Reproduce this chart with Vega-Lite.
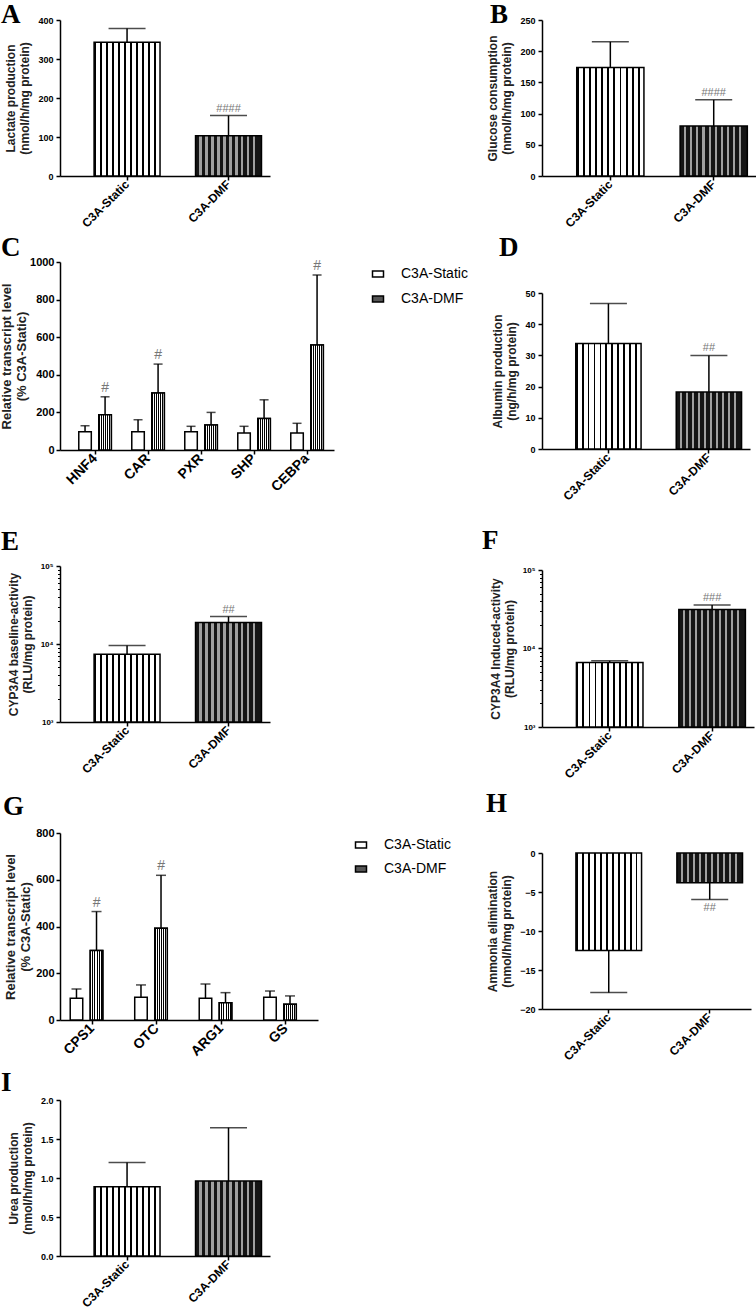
{
"$schema": "https://vega.github.io/schema/vega-lite/v6.json",
"background": "white",
"padding": {"left": 0, "top": 0, "right": 0, "bottom": 0},
"spacing": 9,
"resolve": {"scale": {"fill": "independent"}, "legend": {"fill": "independent"}},
"hconcat": [
 {"spacing": 4, "resolve": {"scale": {"fill": "independent"}, "legend": {"fill": "independent"}}, "vconcat": [
  {"width": 210, "height": 156,
   "title": {"text": "A", "dx": -59, "offset": -13},
   "resolve": {"axis": {"y": "independent"}},
   "data": {"values": [{"g":"C3A-Static","v":343,"e":378,"sig":""},{"g":"C3A-DMF","v":103,"e":155,"sig":"####"}]},
   "encoding": {"x": {"field":"g","type":"nominal","scale":{"domain":["C3A-Static","C3A-DMF"],"paddingInner":0.35,"paddingOuter":0.21,"align":0.8},"axis":{"title":null,"labelAngle":-45,"labelAlign":"right","labelBaseline":"middle","labelFontSize":12,"labelPadding":2}}},
   "layer": [
    {"transform":[{"filter":"datum.g == 'C3A-Static'"}],"mark":{"type":"bar","fill":{"gradient":"linear","stops":[{"offset":0,"color":"#000"},{"offset":0.028,"color":"#000"},{"offset":0.028,"color":"#fff"},{"offset":0.0909,"color":"#fff"},{"offset":0.0909,"color":"#000"},{"offset":0.119,"color":"#000"},{"offset":0.119,"color":"#fff"},{"offset":0.1818,"color":"#fff"},{"offset":0.1818,"color":"#000"},{"offset":0.21,"color":"#000"},{"offset":0.21,"color":"#fff"},{"offset":0.2727,"color":"#fff"},{"offset":0.2727,"color":"#000"},{"offset":0.301,"color":"#000"},{"offset":0.301,"color":"#fff"},{"offset":0.3636,"color":"#fff"},{"offset":0.3636,"color":"#000"},{"offset":0.392,"color":"#000"},{"offset":0.392,"color":"#fff"},{"offset":0.4545,"color":"#fff"},{"offset":0.4545,"color":"#000"},{"offset":0.483,"color":"#000"},{"offset":0.483,"color":"#fff"},{"offset":0.5455,"color":"#fff"},{"offset":0.5455,"color":"#000"},{"offset":0.574,"color":"#000"},{"offset":0.574,"color":"#fff"},{"offset":0.6364,"color":"#fff"},{"offset":0.6364,"color":"#000"},{"offset":0.665,"color":"#000"},{"offset":0.665,"color":"#fff"},{"offset":0.7273,"color":"#fff"},{"offset":0.7273,"color":"#000"},{"offset":0.756,"color":"#000"},{"offset":0.756,"color":"#fff"},{"offset":0.8182,"color":"#fff"},{"offset":0.8182,"color":"#000"},{"offset":0.847,"color":"#000"},{"offset":0.847,"color":"#fff"},{"offset":0.9091,"color":"#fff"},{"offset":0.9091,"color":"#000"},{"offset":0.937,"color":"#000"},{"offset":0.937,"color":"#fff"},{"offset":1,"color":"#fff"}]}},"encoding":{"y":{"field":"v","type":"quantitative","scale":{"domain":[0,400],"nice":false},"axis":{"values":[0,100,200,300,400],"title":["Lactate production","(nmol/h/mg protein)"]}}}},
    {"transform":[{"filter":"datum.g == 'C3A-DMF'"}],"mark":{"type":"bar","fill":{"gradient":"linear","stops":[{"offset":0,"color":"#151515"},{"offset":0.06,"color":"#151515"},{"offset":0.06,"color":"#a0a0a0"},{"offset":0.0909,"color":"#a0a0a0"},{"offset":0.0909,"color":"#151515"},{"offset":0.1509,"color":"#151515"},{"offset":0.1509,"color":"#a0a0a0"},{"offset":0.1818,"color":"#a0a0a0"},{"offset":0.1818,"color":"#151515"},{"offset":0.2418,"color":"#151515"},{"offset":0.2418,"color":"#a0a0a0"},{"offset":0.2727,"color":"#a0a0a0"},{"offset":0.2727,"color":"#151515"},{"offset":0.3327,"color":"#151515"},{"offset":0.3327,"color":"#a0a0a0"},{"offset":0.3636,"color":"#a0a0a0"},{"offset":0.3636,"color":"#151515"},{"offset":0.4236,"color":"#151515"},{"offset":0.4236,"color":"#a0a0a0"},{"offset":0.4545,"color":"#a0a0a0"},{"offset":0.4545,"color":"#151515"},{"offset":0.5145,"color":"#151515"},{"offset":0.5145,"color":"#a0a0a0"},{"offset":0.5455,"color":"#a0a0a0"},{"offset":0.5455,"color":"#151515"},{"offset":0.6055,"color":"#151515"},{"offset":0.6055,"color":"#a0a0a0"},{"offset":0.6364,"color":"#a0a0a0"},{"offset":0.6364,"color":"#151515"},{"offset":0.6964,"color":"#151515"},{"offset":0.6964,"color":"#a0a0a0"},{"offset":0.7273,"color":"#a0a0a0"},{"offset":0.7273,"color":"#151515"},{"offset":0.7873,"color":"#151515"},{"offset":0.7873,"color":"#a0a0a0"},{"offset":0.8182,"color":"#a0a0a0"},{"offset":0.8182,"color":"#151515"},{"offset":0.8782,"color":"#151515"},{"offset":0.8782,"color":"#a0a0a0"},{"offset":0.9091,"color":"#a0a0a0"},{"offset":0.9091,"color":"#151515"},{"offset":1,"color":"#151515"}]}},"encoding":{"y":{"field":"v","type":"quantitative","axis":null}}},
    {"mark":{"type":"rule","strokeWidth":1.5,"color":"black"},"encoding":{"y":{"field":"v","type":"quantitative","axis":null},"y2":{"field":"e"}}},
    {"mark":{"type":"tick","orient":"horizontal","size":37,"thickness":1.5,"color":"black"},"encoding":{"y":{"field":"e","type":"quantitative","axis":null}}},
    {"mark":{"type":"text","dy":-7,"fontSize":11,"color":"#777"},"encoding":{"y":{"field":"e","type":"quantitative","axis":null},"text":{"field":"sig"}}}
   ]},
  {"width": 274, "height": 188,
   "title": {"text": "C", "dx": -59, "offset": -6},
   "resolve": {"axis": {"y": "independent"}},
   "data": {"values": [
    {"gene":"HNF4","g":"C3A-Static","v":97,"e":129,"sig":""},
    {"gene":"HNF4","g":"C3A-DMF","v":188,"e":283,"sig":"#"},
    {"gene":"CAR","g":"C3A-Static","v":97,"e":161,"sig":""},
    {"gene":"CAR","g":"C3A-DMF","v":303,"e":457,"sig":"#"},
    {"gene":"PXR","g":"C3A-Static","v":97,"e":126,"sig":""},
    {"gene":"PXR","g":"C3A-DMF","v":133,"e":200,"sig":""},
    {"gene":"SHP","g":"C3A-Static","v":90,"e":126,"sig":""},
    {"gene":"SHP","g":"C3A-DMF","v":168,"e":267,"sig":""},
    {"gene":"CEBPa","g":"C3A-Static","v":90,"e":142,"sig":""},
    {"gene":"CEBPa","g":"C3A-DMF","v":558,"e":931,"sig":"#"}]},
   "encoding": {
    "x": {"field":"gene","type":"nominal","scale":{"domain":["HNF4","CAR","PXR","SHP","CEBPa"],"paddingInner":0,"paddingOuter":0.085,"align":0.95},"axis":{"title":" ","titleFontSize":10,"titlePadding":20,"labelAngle":-45,"labelAlign":"right","labelBaseline":"middle","labelFontSize":14,"labelPadding":2}},
    "xOffset": {"field":"g","type":"nominal","scale":{"domain":["C3A-Static","C3A-DMF"],"paddingInner":0.375,"paddingOuter":0.51}}},
   "layer": [
    {"mark":{"type":"bar"},"encoding":{
      "y":{"field":"v","type":"quantitative","scale":{"domain":[0,1000],"nice":false},"axis":{"values":[0,200,400,600,800,1000],"format":"d","title":["Relative transcript level","(% C3A-Static)"],"titleFontSize":13,"titleLineHeight":15,"titlePadding":1,"labelPadding":2,"labelFontSize":11}},
      "fill":{"field":"g","type":"nominal","scale":{"domain":["C3A-Static","C3A-DMF"],"range":["#ffffff","#555555"]},"legend":{"title":null,"orient":"right","offset":32,"padding":5,"symbolType":"M-1,-0.55H1V0.55H-1Z","symbolSize":121,"symbolStrokeColor":"black","symbolStrokeWidth":1.8,"labelFontSize":14,"labelFont":"Liberation Sans","labelColor":"black","rowPadding":11,"labelOffset":16}}}},
    {"transform":[{"filter":"datum.g == 'C3A-DMF'"}],"mark":{"type":"bar","fill":{"gradient":"linear","stops":[{"offset":0,"color":"#000"},{"offset":0.083,"color":"#000"},{"offset":0.083,"color":"#fff"},{"offset":0.1667,"color":"#fff"},{"offset":0.1667,"color":"#000"},{"offset":0.25,"color":"#000"},{"offset":0.25,"color":"#fff"},{"offset":0.3333,"color":"#fff"},{"offset":0.3333,"color":"#000"},{"offset":0.4167,"color":"#000"},{"offset":0.4167,"color":"#fff"},{"offset":0.5,"color":"#fff"},{"offset":0.5,"color":"#000"},{"offset":0.5833,"color":"#000"},{"offset":0.5833,"color":"#fff"},{"offset":0.6667,"color":"#fff"},{"offset":0.6667,"color":"#000"},{"offset":0.75,"color":"#000"},{"offset":0.75,"color":"#fff"},{"offset":0.8333,"color":"#fff"},{"offset":0.8333,"color":"#000"},{"offset":0.9167,"color":"#000"},{"offset":0.9167,"color":"#fff"},{"offset":1,"color":"#fff"}]}},"encoding":{"y":{"field":"v","type":"quantitative","axis":null}}},
    {"mark":{"type":"rule","strokeWidth":1.5,"color":"black"},"encoding":{"y":{"field":"v","type":"quantitative","axis":null},"y2":{"field":"e"}}},
    {"mark":{"type":"tick","orient":"horizontal","size":9,"thickness":1.5,"color":"black"},"encoding":{"y":{"field":"e","type":"quantitative","axis":null}}},
    {"mark":{"type":"text","dy":-9,"fontSize":14,"color":"#777"},"encoding":{"y":{"field":"e","type":"quantitative","axis":null},"text":{"field":"sig"}}}
   ]},
  {"width": 210, "height": 156,
   "title": {"text": "E", "dx": -59, "offset": 6},
   "resolve": {"axis": {"y": "independent"}},
   "data": {"values": [{"g":"C3A-Static","v":7400,"e":9550,"sig":""},{"g":"C3A-DMF","v":18800,"e":22500,"sig":"##"}]},
   "encoding": {"x": {"field":"g","type":"nominal","scale":{"domain":["C3A-Static","C3A-DMF"],"paddingInner":0.35,"paddingOuter":0.21,"align":0.8},"axis":{"title":" ","titleFontSize":13,"titlePadding":0,"labelAngle":-45,"labelAlign":"right","labelBaseline":"middle","labelFontSize":12,"labelPadding":2}}},
   "layer": [
    {"transform":[{"filter":"datum.g == 'C3A-Static'"}],"mark":{"type":"bar","fill":{"gradient":"linear","stops":[{"offset":0,"color":"#000"},{"offset":0.028,"color":"#000"},{"offset":0.028,"color":"#fff"},{"offset":0.0909,"color":"#fff"},{"offset":0.0909,"color":"#000"},{"offset":0.119,"color":"#000"},{"offset":0.119,"color":"#fff"},{"offset":0.1818,"color":"#fff"},{"offset":0.1818,"color":"#000"},{"offset":0.21,"color":"#000"},{"offset":0.21,"color":"#fff"},{"offset":0.2727,"color":"#fff"},{"offset":0.2727,"color":"#000"},{"offset":0.301,"color":"#000"},{"offset":0.301,"color":"#fff"},{"offset":0.3636,"color":"#fff"},{"offset":0.3636,"color":"#000"},{"offset":0.392,"color":"#000"},{"offset":0.392,"color":"#fff"},{"offset":0.4545,"color":"#fff"},{"offset":0.4545,"color":"#000"},{"offset":0.483,"color":"#000"},{"offset":0.483,"color":"#fff"},{"offset":0.5455,"color":"#fff"},{"offset":0.5455,"color":"#000"},{"offset":0.574,"color":"#000"},{"offset":0.574,"color":"#fff"},{"offset":0.6364,"color":"#fff"},{"offset":0.6364,"color":"#000"},{"offset":0.665,"color":"#000"},{"offset":0.665,"color":"#fff"},{"offset":0.7273,"color":"#fff"},{"offset":0.7273,"color":"#000"},{"offset":0.756,"color":"#000"},{"offset":0.756,"color":"#fff"},{"offset":0.8182,"color":"#fff"},{"offset":0.8182,"color":"#000"},{"offset":0.847,"color":"#000"},{"offset":0.847,"color":"#fff"},{"offset":0.9091,"color":"#fff"},{"offset":0.9091,"color":"#000"},{"offset":0.937,"color":"#000"},{"offset":0.937,"color":"#fff"},{"offset":1,"color":"#fff"}]}},"encoding":{"y":{"field":"v","type":"quantitative","scale":{"type":"log","domain":[1000,100000],"nice":false},"axis":{"values":[1000,10000,100000],"labelExpr":"datum.value == 1000 ? '10³' : datum.value == 10000 ? '10⁴' : '10⁵'","labelFontSize":8,"title":["CYP3A4 baseline-activity","(RLU/mg protein)"]}},"y2":{"datum":1000}}},
    {"transform":[{"filter":"datum.g == 'C3A-DMF'"}],"mark":{"type":"bar","fill":{"gradient":"linear","stops":[{"offset":0,"color":"#151515"},{"offset":0.06,"color":"#151515"},{"offset":0.06,"color":"#a0a0a0"},{"offset":0.0909,"color":"#a0a0a0"},{"offset":0.0909,"color":"#151515"},{"offset":0.1509,"color":"#151515"},{"offset":0.1509,"color":"#a0a0a0"},{"offset":0.1818,"color":"#a0a0a0"},{"offset":0.1818,"color":"#151515"},{"offset":0.2418,"color":"#151515"},{"offset":0.2418,"color":"#a0a0a0"},{"offset":0.2727,"color":"#a0a0a0"},{"offset":0.2727,"color":"#151515"},{"offset":0.3327,"color":"#151515"},{"offset":0.3327,"color":"#a0a0a0"},{"offset":0.3636,"color":"#a0a0a0"},{"offset":0.3636,"color":"#151515"},{"offset":0.4236,"color":"#151515"},{"offset":0.4236,"color":"#a0a0a0"},{"offset":0.4545,"color":"#a0a0a0"},{"offset":0.4545,"color":"#151515"},{"offset":0.5145,"color":"#151515"},{"offset":0.5145,"color":"#a0a0a0"},{"offset":0.5455,"color":"#a0a0a0"},{"offset":0.5455,"color":"#151515"},{"offset":0.6055,"color":"#151515"},{"offset":0.6055,"color":"#a0a0a0"},{"offset":0.6364,"color":"#a0a0a0"},{"offset":0.6364,"color":"#151515"},{"offset":0.6964,"color":"#151515"},{"offset":0.6964,"color":"#a0a0a0"},{"offset":0.7273,"color":"#a0a0a0"},{"offset":0.7273,"color":"#151515"},{"offset":0.7873,"color":"#151515"},{"offset":0.7873,"color":"#a0a0a0"},{"offset":0.8182,"color":"#a0a0a0"},{"offset":0.8182,"color":"#151515"},{"offset":0.8782,"color":"#151515"},{"offset":0.8782,"color":"#a0a0a0"},{"offset":0.9091,"color":"#a0a0a0"},{"offset":0.9091,"color":"#151515"},{"offset":1,"color":"#151515"}]}},"encoding":{"y":{"field":"v","type":"quantitative","axis":null},"y2":{"datum":1000}}},
    {"mark":{"type":"rule","strokeWidth":1.5,"color":"black"},"encoding":{"y":{"field":"v","type":"quantitative","axis":null},"y2":{"field":"e"}}},
    {"mark":{"type":"tick","orient":"horizontal","size":37,"thickness":1.5,"color":"black"},"encoding":{"y":{"field":"e","type":"quantitative","axis":null}}},
    {"mark":{"type":"text","dy":-7,"fontSize":11,"color":"#777"},"encoding":{"y":{"field":"e","type":"quantitative","axis":null},"text":{"field":"sig"}}},
    {"mark":{"type":"point","opacity":0},"encoding":{"y":{"datum":1000,"type":"quantitative","axis":{"orient":"left","values":[2000,3000,4000,5000,6000,7000,8000,9000,20000,30000,40000,50000,60000,70000,80000,90000],"labels":false,"domain":false,"tickSize":2.5,"tickWidth":1,"title":null}}}}
   ]},
  {"width": 258, "height": 187,
   "title": {"text": "G", "dx": -57, "offset": 6},
   "resolve": {"axis": {"y": "independent"}},
   "data": {"values": [
    {"gene":"CPS1","g":"C3A-Static","v":93,"e":133,"sig":""},
    {"gene":"CPS1","g":"C3A-DMF","v":297,"e":464,"sig":"#"},
    {"gene":"OTC","g":"C3A-Static","v":97,"e":150,"sig":""},
    {"gene":"OTC","g":"C3A-DMF","v":393,"e":619,"sig":"#"},
    {"gene":"ARG1","g":"C3A-Static","v":93,"e":154,"sig":""},
    {"gene":"ARG1","g":"C3A-DMF","v":74,"e":117,"sig":""},
    {"gene":"GS","g":"C3A-Static","v":97,"e":124,"sig":""},
    {"gene":"GS","g":"C3A-DMF","v":67,"e":103,"sig":""}]},
   "encoding": {
    "x": {"field":"gene","type":"nominal","scale":{"domain":["CPS1","OTC","ARG1","GS"],"paddingInner":0,"paddingOuter":0},"axis":{"title":" ","titleFontSize":6,"titlePadding":0,"labelAngle":-45,"labelAlign":"right","labelBaseline":"middle","labelFontSize":14,"labelPadding":2}},
    "xOffset": {"field":"g","type":"nominal","scale":{"domain":["C3A-Static","C3A-DMF"],"paddingInner":0.43,"paddingOuter":0.485}}},
   "layer": [
    {"mark":{"type":"bar"},"encoding":{
      "y":{"field":"v","type":"quantitative","scale":{"domain":[0,800],"nice":false},"axis":{"values":[0,200,400,600,800],"title":["Relative transcript level","(% C3A-Static)"],"titleFontSize":13,"titleLineHeight":15,"titlePadding":3,"labelPadding":2,"labelFontSize":11}},
      "fill":{"field":"g","type":"nominal","scale":{"domain":["C3A-Static","C3A-DMF"],"range":["#ffffff","#555555"]},"legend":{"title":null,"orient":"right","offset":31,"padding":5,"symbolType":"M-1,-0.55H1V0.55H-1Z","symbolSize":121,"symbolStrokeColor":"black","symbolStrokeWidth":1.8,"labelFontSize":14,"labelFont":"Liberation Sans","labelColor":"black","rowPadding":10,"labelOffset":16}}}},
    {"transform":[{"filter":"datum.g == 'C3A-DMF'"}],"mark":{"type":"bar","fill":{"gradient":"linear","stops":[{"offset":0,"color":"#000"},{"offset":0.083,"color":"#000"},{"offset":0.083,"color":"#fff"},{"offset":0.1667,"color":"#fff"},{"offset":0.1667,"color":"#000"},{"offset":0.25,"color":"#000"},{"offset":0.25,"color":"#fff"},{"offset":0.3333,"color":"#fff"},{"offset":0.3333,"color":"#000"},{"offset":0.4167,"color":"#000"},{"offset":0.4167,"color":"#fff"},{"offset":0.5,"color":"#fff"},{"offset":0.5,"color":"#000"},{"offset":0.5833,"color":"#000"},{"offset":0.5833,"color":"#fff"},{"offset":0.6667,"color":"#fff"},{"offset":0.6667,"color":"#000"},{"offset":0.75,"color":"#000"},{"offset":0.75,"color":"#fff"},{"offset":0.8333,"color":"#fff"},{"offset":0.8333,"color":"#000"},{"offset":0.9167,"color":"#000"},{"offset":0.9167,"color":"#fff"},{"offset":1,"color":"#fff"}]}},"encoding":{"y":{"field":"v","type":"quantitative","axis":null}}},
    {"mark":{"type":"rule","strokeWidth":1.5,"color":"black"},"encoding":{"y":{"field":"v","type":"quantitative","axis":null},"y2":{"field":"e"}}},
    {"mark":{"type":"tick","orient":"horizontal","size":10,"thickness":1.5,"color":"black"},"encoding":{"y":{"field":"e","type":"quantitative","axis":null}}},
    {"mark":{"type":"text","dy":-9,"fontSize":14,"color":"#777"},"encoding":{"y":{"field":"e","type":"quantitative","axis":null},"text":{"field":"sig"}}}
   ]},
  {"width": 210, "height": 156,
   "title": {"text": "I", "dx": -59, "offset": -1},
   "resolve": {"axis": {"y": "independent"}},
   "data": {"values": [{"g":"C3A-Static","v":0.887,"e":1.2},{"g":"C3A-DMF","v":0.96,"e":1.645}]},
   "encoding": {"x": {"field":"g","type":"nominal","scale":{"domain":["C3A-Static","C3A-DMF"],"paddingInner":0.35,"paddingOuter":0.21,"align":0.8},"axis":{"title":null,"labelAngle":-45,"labelAlign":"right","labelBaseline":"middle","labelFontSize":12,"labelPadding":2}}},
   "layer": [
    {"transform":[{"filter":"datum.g == 'C3A-Static'"}],"mark":{"type":"bar","fill":{"gradient":"linear","stops":[{"offset":0,"color":"#000"},{"offset":0.028,"color":"#000"},{"offset":0.028,"color":"#fff"},{"offset":0.0909,"color":"#fff"},{"offset":0.0909,"color":"#000"},{"offset":0.119,"color":"#000"},{"offset":0.119,"color":"#fff"},{"offset":0.1818,"color":"#fff"},{"offset":0.1818,"color":"#000"},{"offset":0.21,"color":"#000"},{"offset":0.21,"color":"#fff"},{"offset":0.2727,"color":"#fff"},{"offset":0.2727,"color":"#000"},{"offset":0.301,"color":"#000"},{"offset":0.301,"color":"#fff"},{"offset":0.3636,"color":"#fff"},{"offset":0.3636,"color":"#000"},{"offset":0.392,"color":"#000"},{"offset":0.392,"color":"#fff"},{"offset":0.4545,"color":"#fff"},{"offset":0.4545,"color":"#000"},{"offset":0.483,"color":"#000"},{"offset":0.483,"color":"#fff"},{"offset":0.5455,"color":"#fff"},{"offset":0.5455,"color":"#000"},{"offset":0.574,"color":"#000"},{"offset":0.574,"color":"#fff"},{"offset":0.6364,"color":"#fff"},{"offset":0.6364,"color":"#000"},{"offset":0.665,"color":"#000"},{"offset":0.665,"color":"#fff"},{"offset":0.7273,"color":"#fff"},{"offset":0.7273,"color":"#000"},{"offset":0.756,"color":"#000"},{"offset":0.756,"color":"#fff"},{"offset":0.8182,"color":"#fff"},{"offset":0.8182,"color":"#000"},{"offset":0.847,"color":"#000"},{"offset":0.847,"color":"#fff"},{"offset":0.9091,"color":"#fff"},{"offset":0.9091,"color":"#000"},{"offset":0.937,"color":"#000"},{"offset":0.937,"color":"#fff"},{"offset":1,"color":"#fff"}]}},"encoding":{"y":{"field":"v","type":"quantitative","scale":{"domain":[0,2],"nice":false},"axis":{"values":[0,0.5,1,1.5,2],"format":".1f","title":["Urea production","(nmol/h/mg protein)"]}}}},
    {"transform":[{"filter":"datum.g == 'C3A-DMF'"}],"mark":{"type":"bar","fill":{"gradient":"linear","stops":[{"offset":0,"color":"#151515"},{"offset":0.06,"color":"#151515"},{"offset":0.06,"color":"#a0a0a0"},{"offset":0.0909,"color":"#a0a0a0"},{"offset":0.0909,"color":"#151515"},{"offset":0.1509,"color":"#151515"},{"offset":0.1509,"color":"#a0a0a0"},{"offset":0.1818,"color":"#a0a0a0"},{"offset":0.1818,"color":"#151515"},{"offset":0.2418,"color":"#151515"},{"offset":0.2418,"color":"#a0a0a0"},{"offset":0.2727,"color":"#a0a0a0"},{"offset":0.2727,"color":"#151515"},{"offset":0.3327,"color":"#151515"},{"offset":0.3327,"color":"#a0a0a0"},{"offset":0.3636,"color":"#a0a0a0"},{"offset":0.3636,"color":"#151515"},{"offset":0.4236,"color":"#151515"},{"offset":0.4236,"color":"#a0a0a0"},{"offset":0.4545,"color":"#a0a0a0"},{"offset":0.4545,"color":"#151515"},{"offset":0.5145,"color":"#151515"},{"offset":0.5145,"color":"#a0a0a0"},{"offset":0.5455,"color":"#a0a0a0"},{"offset":0.5455,"color":"#151515"},{"offset":0.6055,"color":"#151515"},{"offset":0.6055,"color":"#a0a0a0"},{"offset":0.6364,"color":"#a0a0a0"},{"offset":0.6364,"color":"#151515"},{"offset":0.6964,"color":"#151515"},{"offset":0.6964,"color":"#a0a0a0"},{"offset":0.7273,"color":"#a0a0a0"},{"offset":0.7273,"color":"#151515"},{"offset":0.7873,"color":"#151515"},{"offset":0.7873,"color":"#a0a0a0"},{"offset":0.8182,"color":"#a0a0a0"},{"offset":0.8182,"color":"#151515"},{"offset":0.8782,"color":"#151515"},{"offset":0.8782,"color":"#a0a0a0"},{"offset":0.9091,"color":"#a0a0a0"},{"offset":0.9091,"color":"#151515"},{"offset":1,"color":"#151515"}]}},"encoding":{"y":{"field":"v","type":"quantitative","axis":null}}},
    {"mark":{"type":"rule","strokeWidth":1.5,"color":"black"},"encoding":{"y":{"field":"v","type":"quantitative","axis":null},"y2":{"field":"e"}}},
    {"mark":{"type":"tick","orient":"horizontal","size":37,"thickness":1.5,"color":"black"},"encoding":{"y":{"field":"e","type":"quantitative","axis":null}}}
   ]}
 ]},
 {"spacing": 4, "vconcat": [
  {"width": 214, "height": 156,
   "title": {"text": "B", "dx": -52, "offset": -13},
   "resolve": {"axis": {"y": "independent"}},
   "data": {"values": [{"g":"C3A-Static","v":174,"e":215,"sig":""},{"g":"C3A-DMF","v":80,"e":122,"sig":"####"}]},
   "encoding": {"x": {"field":"g","type":"nominal","scale":{"domain":["C3A-Static","C3A-DMF"],"paddingInner":0.35,"paddingOuter":0.21,"align":0.8},"axis":{"title":null,"labelAngle":-45,"labelAlign":"right","labelBaseline":"middle","labelFontSize":12,"labelPadding":2}}},
   "layer": [
    {"transform":[{"filter":"datum.g == 'C3A-Static'"}],"mark":{"type":"bar","fill":{"gradient":"linear","stops":[{"offset":0,"color":"#000"},{"offset":0.028,"color":"#000"},{"offset":0.028,"color":"#fff"},{"offset":0.0909,"color":"#fff"},{"offset":0.0909,"color":"#000"},{"offset":0.119,"color":"#000"},{"offset":0.119,"color":"#fff"},{"offset":0.1818,"color":"#fff"},{"offset":0.1818,"color":"#000"},{"offset":0.21,"color":"#000"},{"offset":0.21,"color":"#fff"},{"offset":0.2727,"color":"#fff"},{"offset":0.2727,"color":"#000"},{"offset":0.301,"color":"#000"},{"offset":0.301,"color":"#fff"},{"offset":0.3636,"color":"#fff"},{"offset":0.3636,"color":"#000"},{"offset":0.392,"color":"#000"},{"offset":0.392,"color":"#fff"},{"offset":0.4545,"color":"#fff"},{"offset":0.4545,"color":"#000"},{"offset":0.483,"color":"#000"},{"offset":0.483,"color":"#fff"},{"offset":0.5455,"color":"#fff"},{"offset":0.5455,"color":"#000"},{"offset":0.574,"color":"#000"},{"offset":0.574,"color":"#fff"},{"offset":0.6364,"color":"#fff"},{"offset":0.6364,"color":"#000"},{"offset":0.665,"color":"#000"},{"offset":0.665,"color":"#fff"},{"offset":0.7273,"color":"#fff"},{"offset":0.7273,"color":"#000"},{"offset":0.756,"color":"#000"},{"offset":0.756,"color":"#fff"},{"offset":0.8182,"color":"#fff"},{"offset":0.8182,"color":"#000"},{"offset":0.847,"color":"#000"},{"offset":0.847,"color":"#fff"},{"offset":0.9091,"color":"#fff"},{"offset":0.9091,"color":"#000"},{"offset":0.937,"color":"#000"},{"offset":0.937,"color":"#fff"},{"offset":1,"color":"#fff"}]}},"encoding":{"y":{"field":"v","type":"quantitative","scale":{"domain":[0,250],"nice":false},"axis":{"values":[0,50,100,150,200,250],"title":["Glucose consumption","(nmol/h/mg protein)"]}}}},
    {"transform":[{"filter":"datum.g == 'C3A-DMF'"}],"mark":{"type":"bar","fill":{"gradient":"linear","stops":[{"offset":0,"color":"#151515"},{"offset":0.06,"color":"#151515"},{"offset":0.06,"color":"#a0a0a0"},{"offset":0.0909,"color":"#a0a0a0"},{"offset":0.0909,"color":"#151515"},{"offset":0.1509,"color":"#151515"},{"offset":0.1509,"color":"#a0a0a0"},{"offset":0.1818,"color":"#a0a0a0"},{"offset":0.1818,"color":"#151515"},{"offset":0.2418,"color":"#151515"},{"offset":0.2418,"color":"#a0a0a0"},{"offset":0.2727,"color":"#a0a0a0"},{"offset":0.2727,"color":"#151515"},{"offset":0.3327,"color":"#151515"},{"offset":0.3327,"color":"#a0a0a0"},{"offset":0.3636,"color":"#a0a0a0"},{"offset":0.3636,"color":"#151515"},{"offset":0.4236,"color":"#151515"},{"offset":0.4236,"color":"#a0a0a0"},{"offset":0.4545,"color":"#a0a0a0"},{"offset":0.4545,"color":"#151515"},{"offset":0.5145,"color":"#151515"},{"offset":0.5145,"color":"#a0a0a0"},{"offset":0.5455,"color":"#a0a0a0"},{"offset":0.5455,"color":"#151515"},{"offset":0.6055,"color":"#151515"},{"offset":0.6055,"color":"#a0a0a0"},{"offset":0.6364,"color":"#a0a0a0"},{"offset":0.6364,"color":"#151515"},{"offset":0.6964,"color":"#151515"},{"offset":0.6964,"color":"#a0a0a0"},{"offset":0.7273,"color":"#a0a0a0"},{"offset":0.7273,"color":"#151515"},{"offset":0.7873,"color":"#151515"},{"offset":0.7873,"color":"#a0a0a0"},{"offset":0.8182,"color":"#a0a0a0"},{"offset":0.8182,"color":"#151515"},{"offset":0.8782,"color":"#151515"},{"offset":0.8782,"color":"#a0a0a0"},{"offset":0.9091,"color":"#a0a0a0"},{"offset":0.9091,"color":"#151515"},{"offset":1,"color":"#151515"}]}},"encoding":{"y":{"field":"v","type":"quantitative","axis":null}}},
    {"mark":{"type":"rule","strokeWidth":1.5,"color":"black"},"encoding":{"y":{"field":"v","type":"quantitative","axis":null},"y2":{"field":"e"}}},
    {"mark":{"type":"tick","orient":"horizontal","size":37,"thickness":1.5,"color":"black"},"encoding":{"y":{"field":"e","type":"quantitative","axis":null}}},
    {"mark":{"type":"text","dy":-7,"fontSize":11,"color":"#777"},"encoding":{"y":{"field":"e","type":"quantitative","axis":null},"text":{"field":"sig"}}}
   ]},
  {"width": 208, "height": 156,
   "title": {"text": "D", "dx": -43, "offset": 27},
   "resolve": {"axis": {"y": "independent"}},
   "data": {"values": [{"g":"C3A-Static","v":33.8,"e":46.6,"sig":""},{"g":"C3A-DMF","v":18.3,"e":30.0,"sig":"##"}]},
   "encoding": {"x": {"field":"g","type":"nominal","scale":{"domain":["C3A-Static","C3A-DMF"],"paddingInner":0.35,"paddingOuter":0.21,"align":0.8},"axis":{"title":" ","titleFontSize":10,"titlePadding":10,"labelAngle":-45,"labelAlign":"right","labelBaseline":"middle","labelFontSize":12,"labelPadding":2}}},
   "layer": [
    {"transform":[{"filter":"datum.g == 'C3A-Static'"}],"mark":{"type":"bar","fill":{"gradient":"linear","stops":[{"offset":0,"color":"#000"},{"offset":0.028,"color":"#000"},{"offset":0.028,"color":"#fff"},{"offset":0.0909,"color":"#fff"},{"offset":0.0909,"color":"#000"},{"offset":0.119,"color":"#000"},{"offset":0.119,"color":"#fff"},{"offset":0.1818,"color":"#fff"},{"offset":0.1818,"color":"#000"},{"offset":0.21,"color":"#000"},{"offset":0.21,"color":"#fff"},{"offset":0.2727,"color":"#fff"},{"offset":0.2727,"color":"#000"},{"offset":0.301,"color":"#000"},{"offset":0.301,"color":"#fff"},{"offset":0.3636,"color":"#fff"},{"offset":0.3636,"color":"#000"},{"offset":0.392,"color":"#000"},{"offset":0.392,"color":"#fff"},{"offset":0.4545,"color":"#fff"},{"offset":0.4545,"color":"#000"},{"offset":0.483,"color":"#000"},{"offset":0.483,"color":"#fff"},{"offset":0.5455,"color":"#fff"},{"offset":0.5455,"color":"#000"},{"offset":0.574,"color":"#000"},{"offset":0.574,"color":"#fff"},{"offset":0.6364,"color":"#fff"},{"offset":0.6364,"color":"#000"},{"offset":0.665,"color":"#000"},{"offset":0.665,"color":"#fff"},{"offset":0.7273,"color":"#fff"},{"offset":0.7273,"color":"#000"},{"offset":0.756,"color":"#000"},{"offset":0.756,"color":"#fff"},{"offset":0.8182,"color":"#fff"},{"offset":0.8182,"color":"#000"},{"offset":0.847,"color":"#000"},{"offset":0.847,"color":"#fff"},{"offset":0.9091,"color":"#fff"},{"offset":0.9091,"color":"#000"},{"offset":0.937,"color":"#000"},{"offset":0.937,"color":"#fff"},{"offset":1,"color":"#fff"}]}},"encoding":{"y":{"field":"v","type":"quantitative","scale":{"domain":[0,50],"nice":false},"axis":{"values":[0,10,20,30,40,50],"title":["Albumin production","(ng/h/mg protein)"]}}}},
    {"transform":[{"filter":"datum.g == 'C3A-DMF'"}],"mark":{"type":"bar","fill":{"gradient":"linear","stops":[{"offset":0,"color":"#151515"},{"offset":0.06,"color":"#151515"},{"offset":0.06,"color":"#a0a0a0"},{"offset":0.0909,"color":"#a0a0a0"},{"offset":0.0909,"color":"#151515"},{"offset":0.1509,"color":"#151515"},{"offset":0.1509,"color":"#a0a0a0"},{"offset":0.1818,"color":"#a0a0a0"},{"offset":0.1818,"color":"#151515"},{"offset":0.2418,"color":"#151515"},{"offset":0.2418,"color":"#a0a0a0"},{"offset":0.2727,"color":"#a0a0a0"},{"offset":0.2727,"color":"#151515"},{"offset":0.3327,"color":"#151515"},{"offset":0.3327,"color":"#a0a0a0"},{"offset":0.3636,"color":"#a0a0a0"},{"offset":0.3636,"color":"#151515"},{"offset":0.4236,"color":"#151515"},{"offset":0.4236,"color":"#a0a0a0"},{"offset":0.4545,"color":"#a0a0a0"},{"offset":0.4545,"color":"#151515"},{"offset":0.5145,"color":"#151515"},{"offset":0.5145,"color":"#a0a0a0"},{"offset":0.5455,"color":"#a0a0a0"},{"offset":0.5455,"color":"#151515"},{"offset":0.6055,"color":"#151515"},{"offset":0.6055,"color":"#a0a0a0"},{"offset":0.6364,"color":"#a0a0a0"},{"offset":0.6364,"color":"#151515"},{"offset":0.6964,"color":"#151515"},{"offset":0.6964,"color":"#a0a0a0"},{"offset":0.7273,"color":"#a0a0a0"},{"offset":0.7273,"color":"#151515"},{"offset":0.7873,"color":"#151515"},{"offset":0.7873,"color":"#a0a0a0"},{"offset":0.8182,"color":"#a0a0a0"},{"offset":0.8182,"color":"#151515"},{"offset":0.8782,"color":"#151515"},{"offset":0.8782,"color":"#a0a0a0"},{"offset":0.9091,"color":"#a0a0a0"},{"offset":0.9091,"color":"#151515"},{"offset":1,"color":"#151515"}]}},"encoding":{"y":{"field":"v","type":"quantitative","axis":null}}},
    {"mark":{"type":"rule","strokeWidth":1.5,"color":"black"},"encoding":{"y":{"field":"v","type":"quantitative","axis":null},"y2":{"field":"e"}}},
    {"mark":{"type":"tick","orient":"horizontal","size":37,"thickness":1.5,"color":"black"},"encoding":{"y":{"field":"e","type":"quantitative","axis":null}}},
    {"mark":{"type":"text","dy":-7,"fontSize":11,"color":"#777"},"encoding":{"y":{"field":"e","type":"quantitative","axis":null},"text":{"field":"sig"}}}
   ]},
  {"width": 212, "height": 157,
   "title": {"text": "F", "dx": -60, "offset": 11},
   "resolve": {"axis": {"y": "independent"}},
   "data": {"values": [{"g":"C3A-Static","v":6630,"e":6960,"sig":""},{"g":"C3A-DMF","v":31400,"e":35700,"sig":"###"}]},
   "encoding": {"x": {"field":"g","type":"nominal","scale":{"domain":["C3A-Static","C3A-DMF"],"paddingInner":0.35,"paddingOuter":0.21,"align":0.8},"axis":{"title":" ","titleFontSize":5,"titlePadding":0,"labelAngle":-45,"labelAlign":"right","labelBaseline":"middle","labelFontSize":12,"labelPadding":2}}},
   "layer": [
    {"transform":[{"filter":"datum.g == 'C3A-Static'"}],"mark":{"type":"bar","fill":{"gradient":"linear","stops":[{"offset":0,"color":"#000"},{"offset":0.028,"color":"#000"},{"offset":0.028,"color":"#fff"},{"offset":0.0909,"color":"#fff"},{"offset":0.0909,"color":"#000"},{"offset":0.119,"color":"#000"},{"offset":0.119,"color":"#fff"},{"offset":0.1818,"color":"#fff"},{"offset":0.1818,"color":"#000"},{"offset":0.21,"color":"#000"},{"offset":0.21,"color":"#fff"},{"offset":0.2727,"color":"#fff"},{"offset":0.2727,"color":"#000"},{"offset":0.301,"color":"#000"},{"offset":0.301,"color":"#fff"},{"offset":0.3636,"color":"#fff"},{"offset":0.3636,"color":"#000"},{"offset":0.392,"color":"#000"},{"offset":0.392,"color":"#fff"},{"offset":0.4545,"color":"#fff"},{"offset":0.4545,"color":"#000"},{"offset":0.483,"color":"#000"},{"offset":0.483,"color":"#fff"},{"offset":0.5455,"color":"#fff"},{"offset":0.5455,"color":"#000"},{"offset":0.574,"color":"#000"},{"offset":0.574,"color":"#fff"},{"offset":0.6364,"color":"#fff"},{"offset":0.6364,"color":"#000"},{"offset":0.665,"color":"#000"},{"offset":0.665,"color":"#fff"},{"offset":0.7273,"color":"#fff"},{"offset":0.7273,"color":"#000"},{"offset":0.756,"color":"#000"},{"offset":0.756,"color":"#fff"},{"offset":0.8182,"color":"#fff"},{"offset":0.8182,"color":"#000"},{"offset":0.847,"color":"#000"},{"offset":0.847,"color":"#fff"},{"offset":0.9091,"color":"#fff"},{"offset":0.9091,"color":"#000"},{"offset":0.937,"color":"#000"},{"offset":0.937,"color":"#fff"},{"offset":1,"color":"#fff"}]}},"encoding":{"y":{"field":"v","type":"quantitative","scale":{"type":"log","domain":[1000,100000],"nice":false},"axis":{"values":[1000,10000,100000],"labelExpr":"datum.value == 1000 ? '10³' : datum.value == 10000 ? '10⁴' : '10⁵'","labelFontSize":8,"title":["CYP3A4 Induced-activity","(RLU/mg protein)"]}},"y2":{"datum":1000}}},
    {"transform":[{"filter":"datum.g == 'C3A-DMF'"}],"mark":{"type":"bar","fill":{"gradient":"linear","stops":[{"offset":0,"color":"#151515"},{"offset":0.06,"color":"#151515"},{"offset":0.06,"color":"#a0a0a0"},{"offset":0.0909,"color":"#a0a0a0"},{"offset":0.0909,"color":"#151515"},{"offset":0.1509,"color":"#151515"},{"offset":0.1509,"color":"#a0a0a0"},{"offset":0.1818,"color":"#a0a0a0"},{"offset":0.1818,"color":"#151515"},{"offset":0.2418,"color":"#151515"},{"offset":0.2418,"color":"#a0a0a0"},{"offset":0.2727,"color":"#a0a0a0"},{"offset":0.2727,"color":"#151515"},{"offset":0.3327,"color":"#151515"},{"offset":0.3327,"color":"#a0a0a0"},{"offset":0.3636,"color":"#a0a0a0"},{"offset":0.3636,"color":"#151515"},{"offset":0.4236,"color":"#151515"},{"offset":0.4236,"color":"#a0a0a0"},{"offset":0.4545,"color":"#a0a0a0"},{"offset":0.4545,"color":"#151515"},{"offset":0.5145,"color":"#151515"},{"offset":0.5145,"color":"#a0a0a0"},{"offset":0.5455,"color":"#a0a0a0"},{"offset":0.5455,"color":"#151515"},{"offset":0.6055,"color":"#151515"},{"offset":0.6055,"color":"#a0a0a0"},{"offset":0.6364,"color":"#a0a0a0"},{"offset":0.6364,"color":"#151515"},{"offset":0.6964,"color":"#151515"},{"offset":0.6964,"color":"#a0a0a0"},{"offset":0.7273,"color":"#a0a0a0"},{"offset":0.7273,"color":"#151515"},{"offset":0.7873,"color":"#151515"},{"offset":0.7873,"color":"#a0a0a0"},{"offset":0.8182,"color":"#a0a0a0"},{"offset":0.8182,"color":"#151515"},{"offset":0.8782,"color":"#151515"},{"offset":0.8782,"color":"#a0a0a0"},{"offset":0.9091,"color":"#a0a0a0"},{"offset":0.9091,"color":"#151515"},{"offset":1,"color":"#151515"}]}},"encoding":{"y":{"field":"v","type":"quantitative","axis":null},"y2":{"datum":1000}}},
    {"mark":{"type":"rule","strokeWidth":1.5,"color":"black"},"encoding":{"y":{"field":"v","type":"quantitative","axis":null},"y2":{"field":"e"}}},
    {"mark":{"type":"tick","orient":"horizontal","size":37,"thickness":1.5,"color":"black"},"encoding":{"y":{"field":"e","type":"quantitative","axis":null}}},
    {"mark":{"type":"text","dy":-7,"fontSize":11,"color":"#777"},"encoding":{"y":{"field":"e","type":"quantitative","axis":null},"text":{"field":"sig"}}},
    {"mark":{"type":"point","opacity":0},"encoding":{"y":{"datum":1000,"type":"quantitative","axis":{"orient":"left","values":[2000,3000,4000,5000,6000,7000,8000,9000,20000,30000,40000,50000,60000,70000,80000,90000],"labels":false,"domain":false,"tickSize":2.5,"tickWidth":1,"title":null}}}}
   ]},
  {"width": 209, "height": 156,
   "title": {"text": "H", "dx": -56, "offset": 31},
   "resolve": {"axis": {"y": "independent"}},
   "data": {"values": [{"g":"C3A-Static","v":-12.5,"e":-17.9,"sig":""},{"g":"C3A-DMF","v":-3.83,"e":-5.96,"sig":"##"}]},
   "encoding": {"x": {"field":"g","type":"nominal","scale":{"domain":["C3A-Static","C3A-DMF"],"paddingInner":0.35,"paddingOuter":0.21,"align":0.8},"axis":{"title":null,"labelAngle":-45,"labelAlign":"right","labelBaseline":"middle","labelFontSize":12,"labelPadding":2}}},
   "layer": [
    {"transform":[{"filter":"datum.g == 'C3A-Static'"}],"mark":{"type":"bar","fill":{"gradient":"linear","stops":[{"offset":0,"color":"#000"},{"offset":0.028,"color":"#000"},{"offset":0.028,"color":"#fff"},{"offset":0.0909,"color":"#fff"},{"offset":0.0909,"color":"#000"},{"offset":0.119,"color":"#000"},{"offset":0.119,"color":"#fff"},{"offset":0.1818,"color":"#fff"},{"offset":0.1818,"color":"#000"},{"offset":0.21,"color":"#000"},{"offset":0.21,"color":"#fff"},{"offset":0.2727,"color":"#fff"},{"offset":0.2727,"color":"#000"},{"offset":0.301,"color":"#000"},{"offset":0.301,"color":"#fff"},{"offset":0.3636,"color":"#fff"},{"offset":0.3636,"color":"#000"},{"offset":0.392,"color":"#000"},{"offset":0.392,"color":"#fff"},{"offset":0.4545,"color":"#fff"},{"offset":0.4545,"color":"#000"},{"offset":0.483,"color":"#000"},{"offset":0.483,"color":"#fff"},{"offset":0.5455,"color":"#fff"},{"offset":0.5455,"color":"#000"},{"offset":0.574,"color":"#000"},{"offset":0.574,"color":"#fff"},{"offset":0.6364,"color":"#fff"},{"offset":0.6364,"color":"#000"},{"offset":0.665,"color":"#000"},{"offset":0.665,"color":"#fff"},{"offset":0.7273,"color":"#fff"},{"offset":0.7273,"color":"#000"},{"offset":0.756,"color":"#000"},{"offset":0.756,"color":"#fff"},{"offset":0.8182,"color":"#fff"},{"offset":0.8182,"color":"#000"},{"offset":0.847,"color":"#000"},{"offset":0.847,"color":"#fff"},{"offset":0.9091,"color":"#fff"},{"offset":0.9091,"color":"#000"},{"offset":0.937,"color":"#000"},{"offset":0.937,"color":"#fff"},{"offset":1,"color":"#fff"}]}},"encoding":{"y":{"field":"v","type":"quantitative","scale":{"domain":[-20,0],"nice":false},"axis":{"values":[0,-5,-10,-15,-20],"title":["Ammonia elimination","(nmol/h/mg protein)"]}}}},
    {"transform":[{"filter":"datum.g == 'C3A-DMF'"}],"mark":{"type":"bar","fill":{"gradient":"linear","stops":[{"offset":0,"color":"#151515"},{"offset":0.06,"color":"#151515"},{"offset":0.06,"color":"#a0a0a0"},{"offset":0.0909,"color":"#a0a0a0"},{"offset":0.0909,"color":"#151515"},{"offset":0.1509,"color":"#151515"},{"offset":0.1509,"color":"#a0a0a0"},{"offset":0.1818,"color":"#a0a0a0"},{"offset":0.1818,"color":"#151515"},{"offset":0.2418,"color":"#151515"},{"offset":0.2418,"color":"#a0a0a0"},{"offset":0.2727,"color":"#a0a0a0"},{"offset":0.2727,"color":"#151515"},{"offset":0.3327,"color":"#151515"},{"offset":0.3327,"color":"#a0a0a0"},{"offset":0.3636,"color":"#a0a0a0"},{"offset":0.3636,"color":"#151515"},{"offset":0.4236,"color":"#151515"},{"offset":0.4236,"color":"#a0a0a0"},{"offset":0.4545,"color":"#a0a0a0"},{"offset":0.4545,"color":"#151515"},{"offset":0.5145,"color":"#151515"},{"offset":0.5145,"color":"#a0a0a0"},{"offset":0.5455,"color":"#a0a0a0"},{"offset":0.5455,"color":"#151515"},{"offset":0.6055,"color":"#151515"},{"offset":0.6055,"color":"#a0a0a0"},{"offset":0.6364,"color":"#a0a0a0"},{"offset":0.6364,"color":"#151515"},{"offset":0.6964,"color":"#151515"},{"offset":0.6964,"color":"#a0a0a0"},{"offset":0.7273,"color":"#a0a0a0"},{"offset":0.7273,"color":"#151515"},{"offset":0.7873,"color":"#151515"},{"offset":0.7873,"color":"#a0a0a0"},{"offset":0.8182,"color":"#a0a0a0"},{"offset":0.8182,"color":"#151515"},{"offset":0.8782,"color":"#151515"},{"offset":0.8782,"color":"#a0a0a0"},{"offset":0.9091,"color":"#a0a0a0"},{"offset":0.9091,"color":"#151515"},{"offset":1,"color":"#151515"}]}},"encoding":{"y":{"field":"v","type":"quantitative","axis":null}}},
    {"mark":{"type":"rule","strokeWidth":1.5,"color":"black"},"encoding":{"y":{"datum":0,"axis":null}}},
    {"mark":{"type":"rule","strokeWidth":1.5,"color":"black"},"encoding":{"y":{"field":"v","type":"quantitative","axis":null},"y2":{"field":"e"}}},
    {"mark":{"type":"tick","orient":"horizontal","size":37,"thickness":1.5,"color":"black"},"encoding":{"y":{"field":"e","type":"quantitative","axis":null}}},
    {"mark":{"type":"text","dy":9,"fontSize":11,"color":"#777"},"encoding":{"y":{"field":"e","type":"quantitative","axis":null},"text":{"field":"sig"}}}
   ]}
 ]}
],
"config": {
 "view": {"stroke": null},
 "font": "Liberation Sans",
 "axis": {"grid": false, "domainColor": "black", "domainWidth": 1.5, "tickColor": "black", "tickWidth": 1.5, "tickSize": 4, "labelColor": "black", "labelFont": "Liberation Sans", "labelFontWeight": "bold", "labelFontSize": 9, "titleFont": "Liberation Sans", "titleFontWeight": "bold", "titleFontSize": 12, "titleColor": "#222", "titleLineHeight": 14},
 "axisY": {"titlePadding": 6, "labelPadding": 3},
 "title": {"font": "Liberation Serif", "fontSize": 27, "fontWeight": "bold", "anchor": "start", "frame": "group", "color": "black"},
 "bar": {"stroke": "black", "strokeWidth": 1.5},
 "text": {"font": "Liberation Sans"}
}
}
